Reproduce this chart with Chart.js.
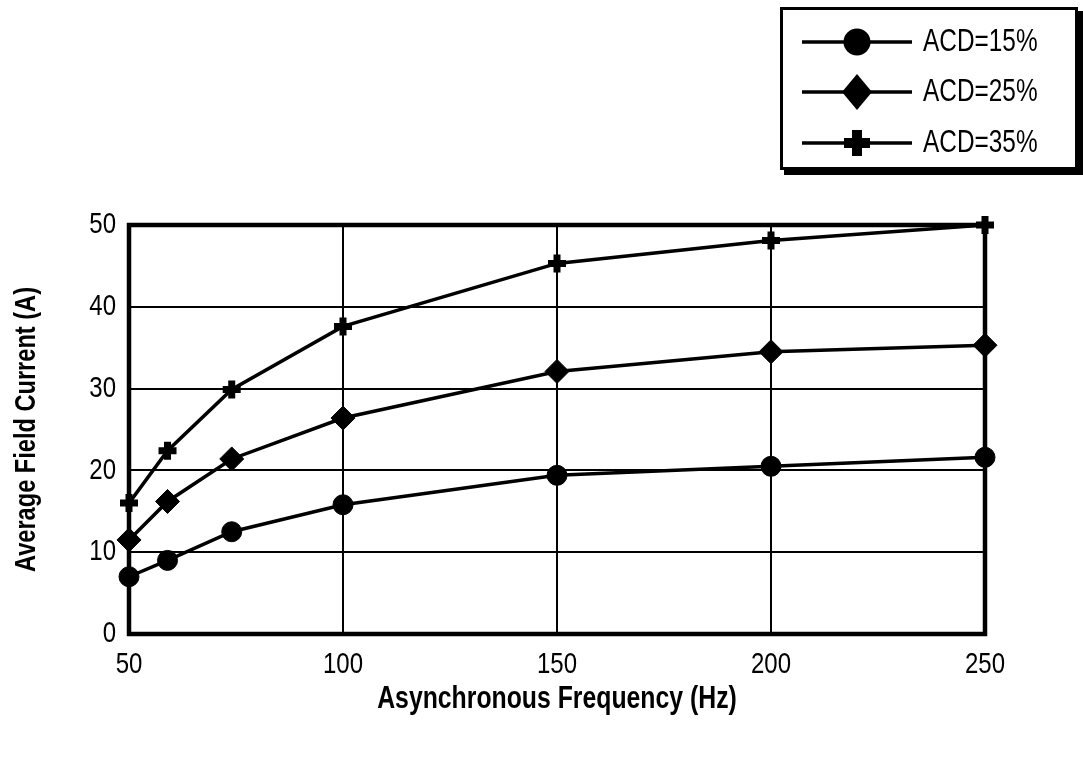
<!DOCTYPE html>
<html>
<head>
<meta charset="utf-8">
<script src="https://cdn.jsdelivr.net/npm/chart.js@4.4.1/dist/chart.umd.min.js"></script>
<style>
  html, body { margin: 0; padding: 0; background: #fff; }
  #wrap { width: 1083px; height: 758px; position: relative; }
</style>
</head>
<body>
<div id="wrap"><canvas id="c" width="1083" height="758"></canvas></div>
<script>
// ---- data ----
const frequencies = [50, 59, 74, 100, 150, 200, 250];
const acd15 = [7.0, 9.0, 12.5, 15.8, 19.4, 20.5, 21.6];
const acd25 = [11.5, 16.2, 21.4, 26.4, 32.1, 34.5, 35.3];
const acd35 = [16.0, 22.4, 29.9, 37.6, 45.3, 48.1, 50.0];
const seriesLabels = ['ACD=15%', 'ACD=25%', 'ACD=35%'];
const xTickValues = [50, 100, 150, 200, 250];
const yTickValues = [0, 10, 20, 30, 40, 50];
const xTitle = 'Asynchronous Frequency (Hz)';
const yTitle = 'Average Field Current (A)';

const FONT = "'Liberation Sans', Arial, sans-serif";
const NARROW_SCALE = 0.8; // emulate a narrow (condensed) face

// Draw all canvas text horizontally condensed (like Arial Narrow)
const canvas = document.getElementById('c');
const ctx2d = canvas.getContext('2d');
const origFillText = ctx2d.fillText.bind(ctx2d);
ctx2d.fillText = function (text, x, y, maxWidth) {
  this.save();
  this.translate(x, y);
  this.scale(NARROW_SCALE, 1);
  origFillText(text, 0, 0);
  this.restore();
};

function toPoints(ys) { return frequencies.map((f, i) => ({ x: f, y: ys[i] })); }

const styles = [
  { pointStyle: 'circle', radius: 10, pbw: 1 },
  { pointStyle: 'rectRot', radius: 12, pbw: 1 },
  { pointStyle: 'cross', radius: 9, pbw: 7 }
];
const seriesValues = [acd15, acd25, acd35];

const datasets = seriesValues.map((vals, i) => ({
  label: seriesLabels[i],
  data: toPoints(vals),
  borderColor: '#000',
  backgroundColor: '#000',
  borderWidth: 3.5,
  pointStyle: styles[i].pointStyle,
  pointRadius: styles[i].radius,
  pointBorderWidth: styles[i].pbw,
  pointBackgroundColor: '#000',
  pointBorderColor: '#000',
  tension: 0,
  clip: false
}));

const framePlugin = {
  id: 'frame',
  beforeDatasetsDraw(chart) {
    const { ctx, chartArea: a } = chart;
    ctx.save();
    ctx.strokeStyle = '#000';
    ctx.lineWidth = 4.5;
    ctx.strokeRect(a.left, a.top, a.right - a.left, a.bottom - a.top);
    ctx.restore();
  }
};

const legendPlugin = {
  id: 'customLegend',
  afterDraw(chart) {
    const ctx = chart.ctx;
    ctx.save();
    ctx.fillStyle = '#000';
    ctx.fillRect(784, 11, 299, 164);
    ctx.fillStyle = '#fff';
    ctx.fillRect(780, 7, 298, 163);
    ctx.strokeStyle = '#000';
    ctx.lineWidth = 3;
    ctx.strokeRect(781.5, 8.5, 295, 160);
    const rows = [42, 92, 143];
    rows.forEach((y, i) => {
      ctx.strokeStyle = '#000';
      ctx.fillStyle = '#000';
      ctx.lineWidth = 3.5;
      ctx.beginPath();
      ctx.moveTo(802, y);
      ctx.lineTo(912, y);
      ctx.stroke();
      const cx = 857;
      if (i === 0) {
        ctx.beginPath();
        ctx.arc(cx, y, 13.5, 0, Math.PI * 2);
        ctx.fill();
      } else if (i === 1) {
        ctx.beginPath();
        ctx.moveTo(cx, y - 18);
        ctx.lineTo(cx + 15, y);
        ctx.lineTo(cx, y + 18);
        ctx.lineTo(cx - 15, y);
        ctx.closePath();
        ctx.fill();
      } else {
        ctx.fillRect(cx - 13, y - 5, 26, 10);
        ctx.fillRect(cx - 5, y - 13, 10, 26);
      }
      ctx.font = "30.5px " + FONT;
      ctx.textBaseline = 'middle';
      ctx.textAlign = 'left';
      ctx.fillText(seriesLabels[i], 923, y + 1);
    });
    ctx.restore();
  }
};

new Chart(canvas, {
  type: 'line',
  data: { datasets },
  plugins: [framePlugin, legendPlugin],
  options: {
    responsive: false,
    animation: false,
    devicePixelRatio: 1,
    layout: { padding: { left: 0, right: 98, top: 225, bottom: 0 } },
    plugins: { legend: { display: false }, tooltip: { enabled: false } },
    scales: {
      x: {
        type: 'linear',
        min: 50, max: 250,
        afterFit(s) { s.height = 124; },
        afterBuildTicks(s) { s.ticks = xTickValues.map(v => ({ value: v })); },
        ticks: { color: '#000', padding: 13, font: { family: FONT, size: 30 } },
        grid: { color: '#000', lineWidth: 2, drawTicks: false },
        border: { display: false },
        title: { display: true, text: xTitle, color: '#000', padding: { top: 0, bottom: 40 },
                 font: { family: FONT, size: 31, weight: 'bold' } }
      },
      y: {
        type: 'linear',
        min: 0, max: 50,
        afterFit(s) { s.width = 129; },
        afterBuildTicks(s) { s.ticks = yTickValues.map(v => ({ value: v })); },
        ticks: { color: '#000', padding: 13, font: { family: FONT, size: 30 } },
        grid: { color: '#000', lineWidth: 2, drawTicks: false },
        border: { display: false },
        title: { display: true, text: yTitle, color: '#000', padding: { top: 9, bottom: 0 },
                 font: { family: FONT, size: 29.5, weight: 'bold' } }
      }
    }
  }
});
</script>
</body>
</html>
